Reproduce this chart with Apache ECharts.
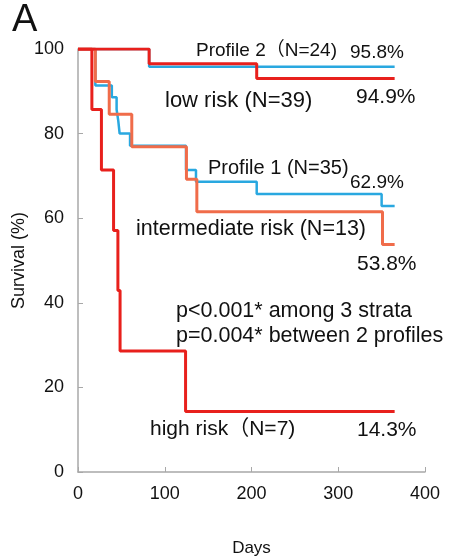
<!DOCTYPE html>
<html>
<head>
<meta charset="utf-8">
<script src="https://cdn.jsdelivr.net/npm/echarts@6/dist/echarts.min.js"></script>
<style>
  html, body { margin: 0; padding: 0; background: #fff; }
  #chart { width: 452px; height: 559px; }
</style>
</head>
<body>
<div id="chart"></div>
<script>
// Kaplan-Meier 곡선 데이터 (days / survival %)
var xTicks = [0, 100, 200, 300, 400];
var yTicks = [0, 20, 40, 60, 80, 100];

var profile2Days = [0, 82, 365];
var profile2Surv = [100, 95.8, 95.8];

var lowDays = [0, 82, 206, 365];
var lowSurv = [100, 96.5, 93, 93];

var profile1Days = [0, 20, 39, 44.5, 46.5, 48, 60, 124.5, 136, 206, 350, 365];
var profile1Surv = [100, 91.4, 88.6, 85.7, 82.9, 80, 77.1, 71.4, 68.6, 65.7, 62.9, 62.9];

var interDays = [0, 20, 36, 62, 125, 137, 351, 365];
var interSurv = [100, 92.3, 84.6, 76.9, 69.2, 61.5, 53.8, 53.8];

var highDays = [0, 16, 27, 41, 46, 48.5, 124, 365];
var highSurv = [100, 85.7, 71.4, 57.1, 42.9, 28.6, 14.3, 14.3];

var FONT = '"Liberation Sans", Arial, "Noto Sans CJK JP", sans-serif';

function pairs(days, surv) {
	var arr = [];
	for (var i = 0; i < days.length; i++) arr.push([days[i], surv[i]]);
	return arr;
}

function kmLine(name, days, surv, color, width, z) {
	return {
		name: name,
		type: 'line',
		step: 'end',
		showSymbol: false,
		z: z,
		lineStyle: {color: color, width: width},
		data: pairs(days, surv)
	};
}

function label(text, x, y, size) {
	return {
		type: 'text',
		x: x,
		y: y,
		style: {
			text: text,
			font: size + 'px ' + FONT,
			fill: '#111',
			verticalAlign: 'middle'
		}
	};
}

var chart = echarts.init(document.getElementById('chart'));

var option = {
	animation: false,
	grid: {left: 78, right: 27, top: 49, bottom: 87, containLabel: false, outerBoundsMode: 'none'},
	xAxis: {
		type: 'value',
		min: 0, max: 400, interval: 100,
		name: 'Days',
		nameLocation: 'middle',
		nameGap: 68,
		nameMoveOverlap: false,
		nameTextStyle: {fontFamily: FONT, fontSize: 17, color: '#111'},
		axisLine: {lineStyle: {color: '#a8a8a8', width: 1.5}},
		axisTick: {inside: true, length: 5, lineStyle: {color: '#a8a8a8'}},
		axisLabel: {fontFamily: FONT, fontSize: 18, color: '#111', margin: 13},
		splitLine: {show: false}
	},
	yAxis: {
		type: 'value',
		min: 0, max: 100, interval: 20,
		name: 'Survival (%)',
		nameLocation: 'middle',
		nameGap: 50,
		nameMoveOverlap: false,
		nameTextStyle: {fontFamily: FONT, fontSize: 18, color: '#111'},
		axisLine: {show: true, lineStyle: {color: '#a8a8a8', width: 1.5}},
		axisTick: {show: true, inside: true, length: 5, lineStyle: {color: '#a8a8a8'}},
		axisLabel: {fontFamily: FONT, fontSize: 18, color: '#111', margin: 14},
		splitLine: {show: false}
	},
	series: [
		kmLine('Profile 2', profile2Days, profile2Surv, '#29a8e0', 2.5, 1),
		kmLine('Profile 1', profile1Days, profile1Surv, '#29a8e0', 2.5, 1),
		kmLine('intermediate risk', interDays, interSurv, '#f06c4a', 3, 2),
		kmLine('low risk', lowDays, lowSurv, '#e8201c', 3, 3),
		kmLine('high risk', highDays, highSurv, '#e8201c', 3, 3)
	],
	graphic: [
		label('A', 12, 21, 38),
		label('Profile 2（N=24)', 196, 51, 19),
		label('95.8%', 350, 53, 19),
		label('low risk (N=39)', 165, 101, 22),
		label('94.9%', 356, 97, 21),
		label('Profile 1 (N=35)', 208, 168, 20),
		label('62.9%', 350, 183, 19),
		label('intermediate risk (N=13)', 136, 229, 21.5),
		label('53.8%', 357, 264, 21),
		label('p<0.001* among 3 strata', 176, 311, 21.5),
		label('p=0.004* between 2 profiles', 176, 336, 21.5),
		label('high risk（N=7)', 150, 429, 21),
		label('14.3%', 357, 430, 21)
	]
};

chart.setOption(option);
</script>
</body>
</html>
